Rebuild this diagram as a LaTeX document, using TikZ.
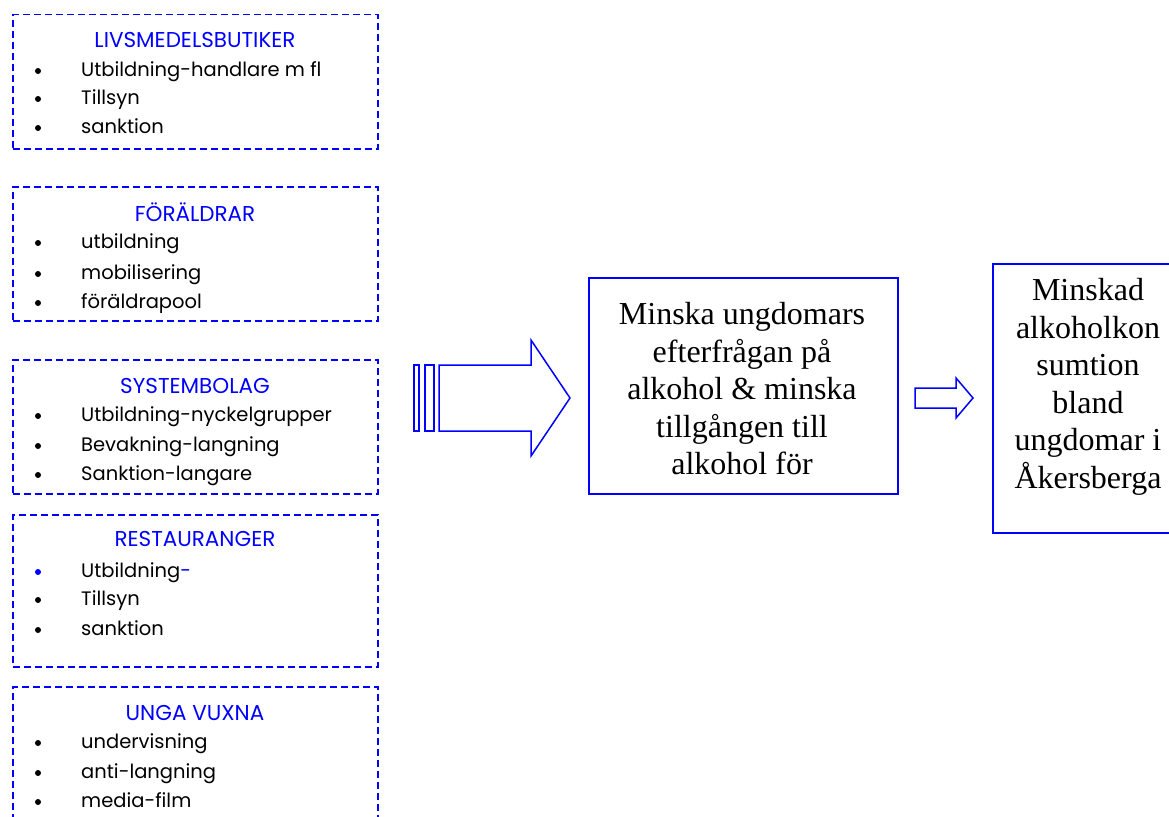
\documentclass[tikz,border=0pt]{standalone}
\usepackage{fontspec}
\setmainfont{Liberation Serif}
\newfontfamily\comic{Poppins}
\definecolor{wblue}{RGB}{0,0,255}
\begin{document}
\begin{tikzpicture}[x=1pt,y=-1pt,
 grp/.style={draw=wblue, line width=1.5pt, dash pattern=on 7pt off 4pt, anchor=north west, inner sep=0, minimum width=365pt},
 ttl/.style={font=\comic\fontsize{21.5}{24}\selectfont, text=wblue, anchor=center, inner sep=0},
 itm/.style={font=\comic\fontsize{19.5}{22}\selectfont, anchor=west, inner sep=0, text height=14pt, text depth=4pt},
 bul/.style={circle, fill=black, inner sep=0, minimum size=6pt},
 solidbox/.style={draw=wblue, line width=1.5pt, anchor=north west, inner sep=0},
 bigtxt/.style={font=\fontsize{32}{37.5}\selectfont, align=center, inner sep=0},
 blockarrow/.style={draw=wblue, line width=1.5pt, line join=miter}]
\useasboundingbox (0,0) rectangle (1169,816);

% group boxes
\node[grp, minimum height=134pt] (g1) at (12,14) {};
\node[grp, minimum height=134pt] (g2) at (12,186) {};
\node[grp, minimum height=134pt] (g3) at (12,359) {};
\node[grp, minimum height=152pt] (g4) at (12,514) {};
\node[grp, minimum height=144pt] (g5) at (12,686) {};

% box 1
\node[ttl] (t1) at (195,40) {LIVSMEDELSBUTIKER};
\node[bul] (b11) at (38,71) {}; \node[itm] (i11) at (81,71) {Utbildning-handlare m fl};
\node[bul] (b12) at (38,99) {}; \node[itm] (i12) at (81,99) {Tillsyn};
\node[bul] (b13) at (38,128) {}; \node[itm] (i13) at (81,128) {sanktion};

% box 2
\node[ttl] (t2) at (195,212) {FÖRÄLDRAR};
\node[bul] (b21) at (38,243) {}; \node[itm] (i21) at (81,243) {utbildning};
\node[bul] (b22) at (38,274) {}; \node[itm] (i22) at (81,274) {mobilisering};
\node[bul] (b23) at (38,303) {}; \node[itm] (i23) at (81,303) {föräldrapool};

% box 3
\node[ttl] (t3) at (195,386) {SYSTEMBOLAG};
\node[bul] (b31) at (38,416) {}; \node[itm] (i31) at (81,416) {Utbildning-nyckelgrupper};
\node[bul] (b32) at (38,446) {}; \node[itm] (i32) at (81,446) {Bevakning-langning};
\node[bul] (b33) at (38,475) {}; \node[itm] (i33) at (81,475) {Sanktion-langare};

% box 4
\node[ttl] (t4) at (195,539) {RESTAURANGER};
\node[bul, fill=wblue] (b41) at (38,572) {}; \node[itm] (i41) at (81,572) {Utbildning\textcolor{wblue}{-}};
\node[bul] (b42) at (38,600) {}; \node[itm] (i42) at (81,600) {Tillsyn};
\node[bul] (b43) at (38,630) {}; \node[itm] (i43) at (81,630) {sanktion};

% box 5
\node[ttl] (t5) at (195,713) {UNGA VUXNA};
\node[bul] (b51) at (38,743) {}; \node[itm] (i51) at (81,743) {undervisning};
\node[bul] (b52) at (38,773) {}; \node[itm] (i52) at (81,773) {anti-langning};
\node[bul] (b53) at (38,802) {}; \node[itm] (i53) at (81,802) {media-film};

% big arrow
\draw[blockarrow] (414,365) rectangle (419,431);
\draw[blockarrow] (425,365) rectangle (434,431);
\draw[blockarrow] (439,365) -- (531,365) -- (531,340) -- (570,398) -- (531,456) -- (531,431) -- (439,431) -- cycle;

% center box
\node[solidbox, minimum width=309pt, minimum height=216pt] (mid) at (588,277) {};
\node[bigtxt] (midtxt) at (742,389) {Minska ungdomars\\efterfrågan på\\alkohol \& minska\\tillgången till\\alkohol för};

% small arrow
\draw[blockarrow] (915,388) -- (956,388) -- (956,378) -- (973,398) -- (956,418) -- (956,408) -- (915,408) -- cycle;

% right box
\node[solidbox, minimum width=200pt, minimum height=269pt] (res) at (992,263) {};
\node[bigtxt] (restxt) at (1088,387) {Minskad\\alkoholkon\\sumtion\\bland\\ungdomar i\\Åkersberga};
\end{tikzpicture}
\end{document}
